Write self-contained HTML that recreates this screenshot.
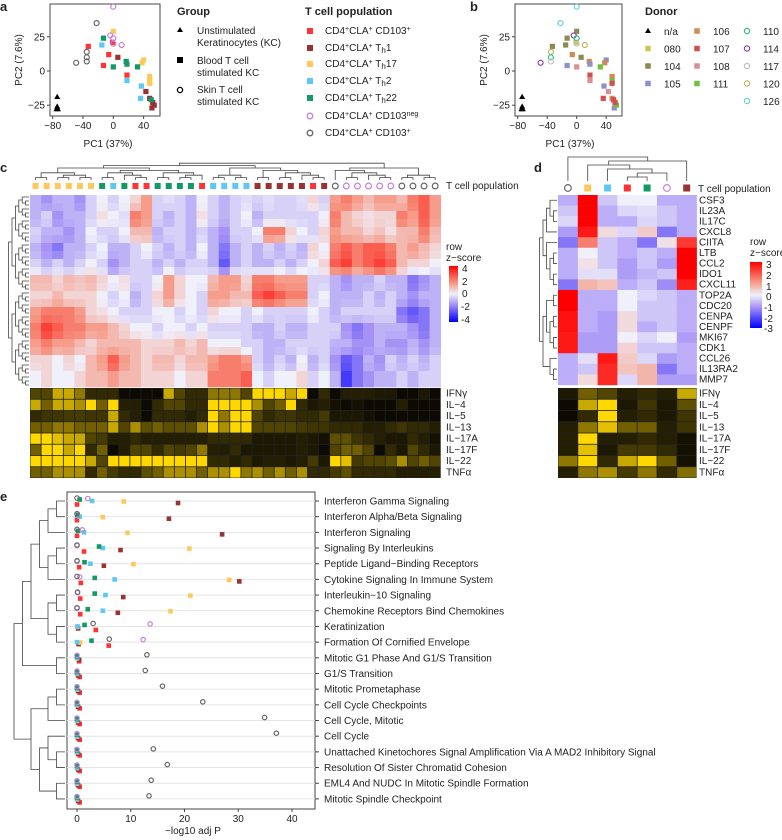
<!DOCTYPE html>
<html><head><meta charset="utf-8"><style>
html,body{margin:0;padding:0;background:#fff;}
svg{display:block;font-family:"Liberation Sans",Arial,sans-serif;}
text{fill:#222;font-size:10px;}
.b{font-weight:bold;}
</style></head><body>
<svg id="fig" width="782" height="840" viewBox="0 0 782 840" xmlns="http://www.w3.org/2000/svg">
<defs>
<linearGradient id="gc" x1="0" y1="0" x2="0" y2="1"><stop offset="0" stop-color="#ff0000"/><stop offset="0.3" stop-color="#f59682"/><stop offset="0.5" stop-color="#f0f0fa"/><stop offset="0.7" stop-color="#a08cf5"/><stop offset="1" stop-color="#0000ff"/></linearGradient>
</defs>
<text x="0" y="11" class="b" style="font-size:13px">a</text>
<text x="470" y="11" class="b" style="font-size:13px">b</text>
<text x="0" y="172" class="b" style="font-size:13px">c</text>
<text x="534" y="172" class="b" style="font-size:13px">d</text>
<text x="0" y="501" class="b" style="font-size:13px">e</text>

<!-- panel a -->
<rect x="50" y="4" width="110" height="112" fill="none" stroke="#444"/>
<text x="108" y="147" text-anchor="middle">PC1 (37%)</text>
<text transform="translate(22,60) rotate(-90)" text-anchor="middle">PC2 (7.6%)</text>
<g id="pa"></g>
<text x="177" y="15" class="b" style="font-size:11px">Group</text>
<path d="M180,27 l3,5 h-6 z" fill="#000"/>
<text x="197" y="34">Unstimulated</text>
<text x="197" y="46">Keratinocytes (KC)</text>
<rect x="177" y="57" width="6" height="6" fill="#000"/>
<text x="197" y="64">Blood T cell</text>
<text x="197" y="76">stimulated KC</text>
<circle cx="180" cy="90" r="2.6" fill="none" stroke="#000" stroke-width="1.3"/>
<text x="197" y="93">Skin T cell</text>
<text x="197" y="105">stimulated KC</text>
<text x="305" y="15" class="b" style="font-size:11px">T cell population</text>
<g>
<rect x="307" y="28" width="6" height="6" fill="#ff3333"/>
<text x="325" y="34">CD4<tspan dy="-3" font-size="7">+</tspan><tspan dy="3">CLA</tspan><tspan dy="-3" font-size="7">+</tspan><tspan dy="3"> CD103</tspan><tspan dy="-3" font-size="7">+</tspan></text>
<rect x="307" y="45" width="6" height="6" fill="#993333"/>
<text x="325" y="51">CD4<tspan dy="-3" font-size="7">+</tspan><tspan dy="3">CLA</tspan><tspan dy="-3" font-size="7">+</tspan><tspan dy="3"> T</tspan><tspan dy="2" font-size="8">h</tspan><tspan dy="-2">1</tspan></text>
<rect x="307" y="61" width="6" height="6" fill="#ffc85a"/>
<text x="325" y="67">CD4<tspan dy="-3" font-size="7">+</tspan><tspan dy="3">CLA</tspan><tspan dy="-3" font-size="7">+</tspan><tspan dy="3"> T</tspan><tspan dy="2" font-size="8">h</tspan><tspan dy="-2">17</tspan></text>
<rect x="307" y="78" width="6" height="6" fill="#5bc8f5"/>
<text x="325" y="84">CD4<tspan dy="-3" font-size="7">+</tspan><tspan dy="3">CLA</tspan><tspan dy="-3" font-size="7">+</tspan><tspan dy="3"> T</tspan><tspan dy="2" font-size="8">h</tspan><tspan dy="-2">2</tspan></text>
<rect x="307" y="95" width="6" height="6" fill="#119966"/>
<text x="325" y="101">CD4<tspan dy="-3" font-size="7">+</tspan><tspan dy="3">CLA</tspan><tspan dy="-3" font-size="7">+</tspan><tspan dy="3"> T</tspan><tspan dy="2" font-size="8">h</tspan><tspan dy="-2">22</tspan></text>
<circle cx="310" cy="116" r="2.8" fill="none" stroke="#c880d8" stroke-width="1.3"/>
<text x="325" y="119">CD4<tspan dy="-3" font-size="7">+</tspan><tspan dy="3">CLA</tspan><tspan dy="-3" font-size="7">+</tspan><tspan dy="3"> CD103</tspan><tspan dy="-3" font-size="7">neg</tspan></text>
<circle cx="310" cy="133" r="2.8" fill="none" stroke="#666" stroke-width="1.3"/>
<text x="325" y="136">CD4<tspan dy="-3" font-size="7">+</tspan><tspan dy="3">CLA</tspan><tspan dy="-3" font-size="7">+</tspan><tspan dy="3"> CD103</tspan><tspan dy="-3" font-size="7">+</tspan></text>
</g>

<!-- panel b -->
<rect x="515" y="4" width="107" height="112" fill="none" stroke="#444"/>
<text x="570" y="147" text-anchor="middle">PC1 (37%)</text>
<text transform="translate(487,60) rotate(-90)" text-anchor="middle">PC2 (7.6%)</text>
<g id="pb"></g>
<text x="645" y="15" class="b" style="font-size:11px">Donor</text>
<g id="donorLegend"></g>

<!-- panel c -->
<g id="pc"></g>
<text x="446" y="189">T cell population</text>
<text x="446" y="250">row</text>
<text x="446" y="261">z−score</text>
<rect x="449" y="266" width="9" height="56" fill="url(#gc)"/>
<g font-size="9">
<text x="462" y="272">4</text>
<text x="462" y="285">2</text>
<text x="462" y="297">0</text>
<text x="461" y="310">-2</text>
<text x="461" y="323">-4</text>
</g>

<!-- panel d -->
<g id="pd"></g>
<text x="698" y="192">T cell population</text>
<text x="750" y="245">row</text>
<text x="750" y="256">z−score</text>
<rect x="750" y="262" width="12" height="66" fill="url(#gc)"/>
<g font-size="9">
<text x="766" y="268">3</text>
<text x="766" y="279">2</text>
<text x="766" y="290">1</text>
<text x="766" y="300">0</text>
<text x="764" y="311">-1</text>
<text x="764" y="322">-2</text>
<text x="764" y="332">-3</text>
</g>

<!-- panel e -->
<rect x="67" y="492" width="248" height="317" fill="none" stroke="#444"/>
<g id="pe"></g>
<text x="193" y="834" text-anchor="middle">−log10 adj P</text>
</svg>
<script>
// ---------- data ----------
const pcaX=[-74,-74,-73,-75,-33,-1,-6,-13,18,6,43,48,51,54,52,0,40,38,48,48,48,-15,18,37,36,-13,0,17,18,32,50,0,-4,0,0,11,-22,-35,-35,-35,-49];
const pcaY=[-19,-26,-28,-28,18,21,12,4,-3,10,-15,-20,-27,-25,-23,29,8,6,-4,-7,-9,19,-7,-11,-20,24,3,7,5,3,-21,47,26,24,20,19,35,14,10,7,6];
const pcaPop=['KC','KC','KC','KC','R','R','R','R','R','Br','Br','Br','Br','Br','Br','Y','Y','Y','Y','Y','Y','B','B','B','B','G','G','G','G','G','G','Pk','Pk','Pk','Pk','Pk','Gr','Gr','Gr','Gr','Gr'];
const pcaDonor=['na','na','na','na','104','080','106','105','107','104','108','106','105','111','107','104','105','106','106','111','107','104','108','105','107','104','108','106','105','111','107','126','114','110','117','120','126','120','110','117','114'];
const donorNames=['n/a','080','104','105','106','107','108','111','110','114','117','120','126'];
const donorKeys=['na','080','104','105','106','107','108','111','110','114','117','120','126'];
const axisTicksX=[-80,-40,0,40];
const axisTicksY=[25,0,-25];

const cCols=['Y','Y','Y','Y','Y','Y','G','B','G','R','R','G','G','G','G','R','B','B','B','B','Br','Br','Br','Br','Br','R','Br','Gr','Pk','Pk','Pk','Pk','Pk','Gr','Gr','Gr','Gr'];
const cBand1=[-1,-1.5,-1,-1,-1.5,-0.5,0,-0.5,0,0.5,1.5,-0.5,-0.3,-0.5,-1,0,-0.5,-1,-0.5,-0.3,-0.5,-0.3,-0.5,-0.5,-0.3,0.5,-0.5,1.5,2,1.5,1,1.5,1.5,1,2,2.5,1.5];
const cBand2=[-1,-0.5,-1.5,-1,-1,-0.5,0.3,0,-0.3,2,1.5,-0.5,-1,-0.5,-1,0.3,-0.5,-1,-0.5,0,-1,-0.5,-0.5,-0.5,-0.5,-0.5,0,2,1,0.5,0.3,0.5,0.5,2,1.5,2.5,1.5];
const cBand3=[-0.5,-1,-1,-1.5,-1,0,-0.5,-0.5,0,1,1,-1,-0.5,-0.5,-1,-0.5,-1,-1.5,-0.5,-0.5,0,2,2,0.5,0,-0.5,0.5,1.5,1,1,0.5,0.8,0.3,1,1,2,1];
const cBand4=[-1,-1.5,-2,-1,-1,-0.5,0,-1,-1,-0.5,0,-0.5,-1,-0.5,-1,0,-1,-2,-1,-0.5,-1,-0.5,-1,-0.5,-1,0.5,0,2,2.5,2,2.5,2.5,2,1,1.5,1,0.5];
const cBand5=[-0.5,-1,-0.5,-1,-0.5,0,-0.5,-1.5,-1,-0.5,-0.5,-1,-0.5,-1,-0.5,-0.5,-1,-2.5,-1,-0.5,-1,-1,-0.5,-1,-0.5,0,0.5,2.5,3,2,2.5,3,2.5,1,0.5,0.5,0];
const cBand6=[1,1,0.5,1,0.8,1,0.5,0,0.3,-0.5,-0.5,0,1.5,0.5,0,0,1,1.5,1.5,0.5,2,2,1.5,1.5,1.5,-0.5,-0.5,-1,-1.5,-1,-1,-0.5,-1,-1,-2,-1.5,-1];
const cBand7=[0.5,0.5,1,0.5,0.5,0.5,0,-0.5,0,-1,-0.5,0.5,1.5,0.5,0,-0.5,1.5,1.5,1,1,2.5,3,2.5,2,2,-0.5,0,-1,-1,-1,-0.5,-1,-0.5,-1,-1.5,-1,-1];
const cBand8=[1.5,2,2,2,1.5,0.5,0.3,0,-0.5,-0.5,-0.5,0,0,-0.5,0,-0.5,0.5,0,0,-0.5,0,-0.5,-0.5,-0.5,-0.5,0,-0.5,-1,-0.5,-0.5,-0.5,-0.5,-0.5,-2,-2.5,-2,-1];
const cBand9=[2,3,2.5,2,2,1.5,1.5,1,0.5,0,0,-0.5,0,0,-0.5,0,-0.5,-0.5,-0.5,-0.5,-1,-1,-0.5,-1,-1,-0.5,-0.5,-0.5,-1.5,-2,-1.5,-1,-1,-1,-1.5,-2,-1];
const cBand10=[1.5,2,1.5,1.5,1,0.5,1,1,1,1,0.5,0.5,0.5,1,0.5,1,0,0,0,-0.5,-0.5,-1,-1,-0.5,-0.5,-0.5,-0.5,-1,-1,-1.5,-1.5,-1,-1.5,-1.5,-1,-1.5,-1];
const cBand11=[0.5,0.5,0,0.5,0,1,1.5,2.5,1.5,1,0.5,1,1,0.5,1,1,1.5,2,2,1.5,-0.5,-1,-0.5,-1,0,-1,-0.5,-1.5,-2.5,-2,-1,-1.5,-0.5,-1,-0.5,-1,-0.5];
const cBand12=[0,0.5,0,0,0.5,1,1,1.5,1,1,0.5,0.5,0.5,0,0.5,0.5,2,2,2,2.5,0,-0.5,0,0,0.5,-0.5,0,-1,-3,-2,-1.5,-1,-1,-0.5,-1,-0.5,-0.5];
const cytoNames=['IFNγ','IL−4','IL−5','IL−13','IL−17A','IL−17F','IL−22','TNFα'];
const cIFNg=[1,1,3,3,2,0.5,0.5,0.5,0,0,0,0,3,1,0.5,0.5,2,2,2,1,4,4,4,3,4,0,0.5,0,0.3,0.3,0.3,0.2,0.2,0,0,0.2,0];
const cIL4=[3,1.5,3,3,2.5,4,1.5,4,0.3,0.3,0,0.5,1,1,0.5,0.5,4,4,4,4,2.5,1,1.5,4,0.5,0.2,0.3,0.1,0,0.1,0,0,0,0.3,0,0,0];
const cIL5=[0.5,0.7,0.7,0.8,0.8,0.7,0.7,3,0.5,0.3,0,0.5,0.5,0.5,0.3,0.5,4,2,4,4,1,0.5,0.7,0.7,0.5,0.5,0.8,0.2,0.2,0.2,0.1,0,0,0,0,0,0];
const cIL13=[1.5,1.5,2,2,1.5,1.5,1.5,3,1,2.5,1.2,1.5,1.2,1.2,1.2,2.5,4,2.5,4,4,1,1,1,1,0.8,0.7,0.7,0.5,0.5,0.5,0.3,0.3,0.5,0.7,0.5,0.5,0.3];
const cIL17A=[4,4,3.5,3,3,1,0.8,0.3,0.3,0.5,0.3,0.3,0.3,0.3,0.3,0.3,0.5,0.5,0.5,0.5,0.2,0.2,0.2,0.2,0.3,0.2,0.1,1.2,1.2,0.7,0.5,0.3,0.2,0.2,0.5,0.3,0.1];
const cIL17F=[1.5,4,4,3,4,0.5,1.5,0,0.3,1,1,0.5,1,0.8,1,2,0.3,0.3,0.5,0.2,0.2,0.2,0.2,0.2,0.3,0.2,0,1,1.5,1.5,1,0,0.5,0.2,1,0.5,0.2];
const cIL22=[4,4,4,4,4,3,1,4,4,4,4,4,4,4,4,4,0.5,0.5,0.3,0.5,0.2,0.3,0.3,0.2,0.3,0.8,0.2,4,3.5,0.8,1,1,1.2,2.5,1,1.5,1];
const cTNFa=[1.5,1.5,2.5,2.5,2.5,0.5,1.5,0.8,0.5,0.5,1.2,1.5,2.5,2.5,2.5,1.5,2.5,2.5,4,2,2.5,1.5,2.5,1.5,2.5,0.5,0.5,0.8,1.2,0.5,0.5,0.5,0.5,0.3,0.3,0.3,0.3];

const dCols=['Gr','Y','B','R','G','Pk','Br'];
const dGenes=['CSF3','IL23A','IL17C','CXCL8','CIITA','LTB','CCL2','IDO1','CXCL11','TOP2A','CDC20','CENPA','CENPF','MKI67','CDK1','CCL26','IL13RA2','MMP7'];
const dCSF3=[-0.8,3,-0.5,0,0,-0.8,-0.8];
const dIL23A=[-0.5,3,-0.8,-0.3,-0.2,-0.5,-0.8];
const dIL17C=[-0.3,3,-0.8,-0.8,-0.3,-0.5,-0.8];
const dCXCL8=[-1,2.7,0.3,-0.3,0.5,-1.5,-0.8];
const dCIITA=[-1.5,1.5,-0.5,-0.8,-1.5,0.2,2.3];
const dLTB=[-0.8,0,-0.5,-0.8,-0.5,-0.8,3];
const dCCL2=[-0.8,0.2,-0.5,-1,-0.5,-1,3];
const dIDO1=[-0.8,-0.2,-0.2,-1,-0.7,-0.5,3];
const dCXCL11=[-1.5,0.8,0.6,-0.8,-0.5,-1.2,2.6];
const dTOP2A=[3,-0.8,-0.8,0,-0.3,-0.5,-0.8];
const dCDC20=[3,-0.8,-0.8,0,-0.5,-0.5,-0.8];
const dCENPA=[2.8,-0.8,-1,0.3,-0.5,-0.5,-0.8];
const dCENPF=[2.8,-0.8,-1,0.3,-0.8,-0.5,-0.8];
const dMKI67=[2.7,-1,-1,0,-0.3,0,-1];
const dCDK1=[2.7,-1,-1,0.4,-0.5,-0.5,-0.8];
const dCCL26=[-0.8,-0.2,2.7,0.5,-0.3,-1,-0.8];
const dIL13RA2=[-0.8,-0.5,2.5,0.6,0.8,-1.5,-0.8];
const dMMP7=[-0.8,0.3,2.5,-0.3,0.8,-1,-1];
const dIFNg=[0.2,1.5,1,0.3,0.5,0.3,3];
const dIL4=[0,3,4,0.2,0.7,0.2,1.2];
const dIL5=[0,0.5,4,0.3,0.5,0.2,0.7];
const dIL13=[0.3,2,3.5,1.5,1.5,0.3,0.7];
const dIL17A=[0.3,4,0.3,0.3,0.5,0.3,0.1];
const dIL17F=[0.3,3.5,0.2,0.8,0.8,0.5,0.1];
const dIL22=[2,4,0.5,3,4,1.5,0.1];
const dTNFa=[0.3,2,2.5,0.8,2,0.5,1.8];

const pathways=['Interferon Gamma Signaling','Interferon Alpha/Beta Signaling','Interferon Signaling','Signaling By Interleukins','Peptide Ligand−Binding Receptors','Cytokine Signaling In Immune System','Interleukin−10 Signaling','Chemokine Receptors Bind Chemokines','Keratinization','Formation Of Cornified Envelope','Mitotic G1 Phase And G1/S Transition','G1/S Transition','Mitotic Prometaphase','Cell Cycle Checkpoints','Cell Cycle, Mitotic','Cell Cycle','Unattached Kinetochores Signal Amplification Via A MAD2 Inhibitory Signal','Resolution Of Sister Chromatid Cohesion','EML4 And NUDC In Mitotic Spindle Formation','Mitotic Spindle Checkpoint'];
const eGray=[0,0,0,0,0,0,0.1,0,3,6,13,12.7,15.9,23.4,34.9,37.1,14.2,16.8,13.8,13.4];
const ePink=[2,0.1,1,0,0,0.5,0.1,0,13.6,12.3,0,0,0,0,0,0,0,0,0,0];
const eGreen=[0.5,0,0.2,4.1,1.4,3.3,3.3,2,1.4,2.7,0,0,0,0,0,0,0,0,0,0];
const eBlue=[2.8,0.5,1.3,4.8,2.5,7,5.3,4.8,0.1,0,0,0,0,0,0,0,0,0,0,0];
const eYellow=[8.7,4.8,9.4,20.9,10.5,28.3,21.1,17.4,0,0.6,0,0,0,0,0,0,0,0,0,0];
const eBrown=[18.8,17.1,27,8.1,5,30.2,8.6,7.6,0.2,0.3,0.4,0.2,0.2,0.2,0.2,0.2,0.2,0.2,0.2,0.2];
const eRed=[0,0,0,1.3,0.4,0.7,0.6,0.6,3.5,5.9,0.4,0.5,0.5,0.5,0.5,0.5,0.5,0.5,0.5,0.5];
const eTicks=[0,10,20,30,40];

// ---------- helpers ----------
const NS='http://www.w3.org/2000/svg';
function mk(tag,attrs,parent){const e=document.createElementNS(NS,tag);for(const k in attrs)e.setAttribute(k,attrs[k]);parent.appendChild(e);return e;}
const popColor={R:'#ff3333',Br:'#993333',Y:'#ffc85a',B:'#5bc8f5',G:'#119966',Pk:'#c880d8',Gr:'#666666',KC:'#000'};
const donorColor={na:'#000','080':'#c8c850','104':'#8b8b50','105':'#8f8fd0','106':'#d08c50','107':'#d05050','108':'#d89090','111':'#70c040','110':'#30c080','114':'#9040a0','117':'#c0c0c0','120':'#b8b860','126':'#70d0d0'};
function lerp(a,b,t){return a.map((v,i)=>Math.round(v+(b[i]-v)*t));}
function zcol(v,max){let t=Math.max(-1,Math.min(1,v/max));const w=[240,240,250];let c;
 if(t>=0){c=t<0.4?lerp(w,[245,150,130],t/0.4):lerp([245,150,130],[255,0,0],(t-0.4)/0.6);}
 else{t=-t;c=t<0.4?lerp(w,[160,140,245],t/0.4):lerp([160,140,245],[0,0,255],(t-0.4)/0.6);}
 return 'rgb('+c.join(',')+')';}
function ycol(v){const t=Math.max(0,Math.min(1,v/4));return 'rgb('+lerp([12,10,2],[255,216,0],Math.pow(t,0.9)).join(',')+')';}
function marker(g,kind,color,cx,cy,s){
 let el;
 if(kind==='KC'){el=mk('path',{d:`M${cx},${cy-3.2} l3,5.2 h-6 z`,fill:'#000'},g);}
 else if(kind==='Pk'||kind==='Gr'||kind==='circle'){el=mk('circle',{cx:cx,cy:cy,r:s*0.48,fill:'none',stroke:color,'stroke-width':1.2},g);}
 else{el=mk('rect',{x:cx-s/2,y:cy-s/2,width:s,height:s,fill:color},g);}
 return el;}
function dendro(g,tree,leafPos,base,step,dir){
 function rec(n){
  if(typeof n==='number')return [leafPos(n),0];
  const a=rec(n[0]),b=rec(n[1]);const h=Math.max(a[1],b[1])+1;
  const hp=base-h*step,ha=base-a[1]*step,hb=base-b[1]*step;
  let d;
  if(dir==='top')d=`M${a[0]},${ha}V${hp}H${b[0]}V${hb}`;else d=`M${ha},${a[0]}H${hp}V${b[0]}H${hb}`;
  const p=mk('path',{d:d,fill:'none',stroke:'#444','stroke-width':0.8},g);
  
  
  return [(a[0]+b[0])/2,h];}
 return rec(tree);}

// ---------- panels a & b ----------
function pca(gid,x0,xs){
 const g=document.getElementById(gid);
 const X=v=>x0+xs*v, Y=v=>71-1.368*v;
 const fx=gid==='pa'?50:515;
 axisTicksX.forEach(t=>{const l=mk('line',{x1:X(t),x2:X(t),y1:116,y2:119,stroke:'#444'},g);
  
  
  const tx=mk('text',{x:X(t),y:129,'text-anchor':'middle'},g);tx.textContent=t===0?'0':String(t).replace('-','−');
  
  });
 axisTicksY.forEach(t=>{
  const l2=mk('line',{x1:fx-3,x2:fx,y1:Y(t),y2:Y(t),stroke:'#444'},g);
  
  
  const tx=mk('text',{x:fx-5,y:Y(t)+3.5,'text-anchor':'end'},g);tx.textContent=String(t).replace('-','−');
  
  });
 pcaX.forEach((vx,i)=>{const pop=pcaPop[i];let col,kind;
  if(gid==='pa'){col=popColor[pop];kind=pop;}
  else{col=donorColor[pcaDonor[i]];kind=(pop==='Pk'||pop==='Gr')?'circle':pop;}
  const m=marker(g,kind,col,X(vx),Y(pcaY[i]),5.2);
  
  });
}
pca('pa',113.3,0.758);
pca('pb',576.7,0.737);
(function(){const g=document.getElementById('donorLegend');
 donorNames.forEach((n,i)=>{let c=i<4?0:(i<8?1:2);let row=i<8?i%4:i-8;
  const mx=[648,697,747][c],my=31+row*17.5;const k=donorKeys[i];
  const kind=k==='na'?'KC':(c===2?'circle':'sq');
  const m=marker(g,kind,donorColor[k],mx,my,5.5);
  
  
  const t=mk('text',{x:mx+16,y:my+4},g);t.textContent=n;
  
  });})();

// ---------- panel c ----------
(function(){const g=document.getElementById('pc');
 const X0=30,CW=11.1,Y0=195,BH=16;
 const bands=[cBand1,cBand2,cBand3,cBand4,cBand5,cBand6,cBand7,cBand8,cBand9,cBand10,cBand11,cBand12];
 bands.forEach((b,r)=>b.forEach((v,c)=>{const e=mk('rect',{x:X0+c*CW,y:Y0+r*BH,width:CW+0.3,height:BH/2+0.3,fill:zcol(v,4)},g);
   
   
   const nb=bands[Math.min(r+1,bands.length-1)];
   const e2=mk('rect',{x:X0+c*CW,y:Y0+r*BH+BH/2,width:CW+0.3,height:BH/2+0.3,fill:zcol(v*0.75+nb[c]*0.25,4)},g);
   
   }));
 const cy=[cIFNg,cIL4,cIL5,cIL13,cIL17A,cIL17F,cIL22,cTNFa];const CY0=388,CH=11.25;
 const bg=mk('rect',{x:X0,y:CY0,width:CW*37,height:CH*8,fill:'#222'},g);
 
 
 cy.forEach((row,r)=>{row.forEach((v,c)=>{const e=mk('rect',{x:X0+c*CW+0.4,y:CY0+r*CH+0.4,width:CW-0.8,height:CH-0.8,fill:ycol(v)},g);
   
   });
  const t=mk('text',{x:446,y:CY0+r*CH+8.5,'font-size':'9.5'},g);t.textContent=cytoNames[r];
  
  });
 cCols.forEach((p,c)=>{const m=marker(g,p,popColor[p],X0+c*CW+CW/2,186,6);
  
  });
 const Yt=[[0,1],[[2,3],[4,5]]],m1=[[6,7],[8,[9,10]]],m2=[[11,12],[[13,14],15]],Bl=[[16,17],[18,19]],Bn=[[20,21],[[22,23],[24,[25,26]]]];
 const tree=[[[Yt,[m1,m2]],[Bl,Bn]],[[27,[[28,29],[30,[31,32]]]],[[33,34],[35,36]]]];
 dendro(g,tree,i=>X0+i*CW+CW/2,180,2.4,'top');
 function bal(a,b){if(b-a<=1)return a;const m=Math.floor((a+b)/2);return [bal(a,m),bal(m,b)];}
 dendro(g,bal(0,48),i=>Y0+2+i*4,29,3.4,'left');
})();

// ---------- panel d ----------
(function(){const g=document.getElementById('pd');
 const X0=558,CW=19.8,Y0=195,RH=10.55;
 const rows=[dCSF3,dIL23A,dIL17C,dCXCL8,dCIITA,dLTB,dCCL2,dIDO1,dCXCL11,dTOP2A,dCDC20,dCENPA,dCENPF,dMKI67,dCDK1,dCCL26,dIL13RA2,dMMP7];
 rows.forEach((row,r)=>{row.forEach((v,c)=>{const e=mk('rect',{x:X0+c*CW,y:Y0+r*RH,width:CW+0.3,height:RH+0.3,fill:zcol(v,3)},g);
   
   });
  const t=mk('text',{x:699,y:Y0+r*RH+8.3,'font-size':'9.5'},g);t.textContent=dGenes[r];
  
  });
 const cy=[dIFNg,dIL4,dIL5,dIL13,dIL17A,dIL17F,dIL22,dTNFa];const CY0=388,CH=11.25;
 const bg=mk('rect',{x:X0,y:CY0,width:CW*7,height:CH*8,fill:'#222'},g);
 
 
 cy.forEach((row,r)=>{row.forEach((v,c)=>{const e=mk('rect',{x:X0+c*CW+0.4,y:CY0+r*CH+0.4,width:CW-0.8,height:CH-0.8,fill:ycol(v)},g);
   
   });
  const t=mk('text',{x:699,y:CY0+r*CH+8.5,'font-size':'9.5'},g);t.textContent=cytoNames[r];
  
  });
 dCols.forEach((p,c)=>{const m=marker(g,p,popColor[p],X0+c*CW+CW/2,188,7);
  
  });
 dendro(g,[0,[[1,[2,[[3,4],5]]],6]],i=>X0+i*CW+CW/2,181,4,'top');
 dendro(g,[[[[0,[1,2]],3],[4,[[5,6],[7,8]]]],[[[9,10],[[11,12],[13,14]]],[15,[16,17]]]],i=>Y0+i*RH+RH/2,557,3.5,'left');
})();

// ---------- panel e ----------
(function(){const g=document.getElementById('pe');
 const X=v=>77+5.375*v, Y=i=>501+i*15.68;
 pathways.forEach((p,i)=>{const l=mk('line',{x1:67,x2:315,y1:Y(i),y2:Y(i),stroke:'#e4e4e4'},g);
  
  
  const tk=mk('line',{x1:315,x2:319,y1:Y(i),y2:Y(i),stroke:'#444'},g);
  
  
  const t=mk('text',{x:324,y:Y(i)+3.5,'font-size':'10.1'},g);t.textContent=p;
  
  });
 eTicks.forEach(t=>{const l=mk('line',{x1:X(t),x2:X(t),y1:809,y2:812,stroke:'#444'},g);
  
  
  const tx=mk('text',{x:X(t),y:822,'text-anchor':'middle'},g);tx.textContent=t;
  
  });
 const series=[[eRed,'R',3.5],[eBrown,'Br',2],[eYellow,'Y',0.5],[eBlue,'B',0],[eGreen,'G',-1.5],[ePink,'Pk',-2.5],[eGray,'Gr',-3]];
 series.forEach(([vals,p,off])=>vals.forEach((v,i)=>{const m=marker(g,p,popColor[p],X(v),Y(i)+off,4.6);
   
   }));
 dendro(g,[[[[[[0,1],2],[[3,4],5]],[[6,7],[8,9]]],[10,11]],[[[12,13],14],[[15,[16,17]],[18,19]]]],i=>Y(i),65,8.5,'left');
})();
</script>
</body></html>
